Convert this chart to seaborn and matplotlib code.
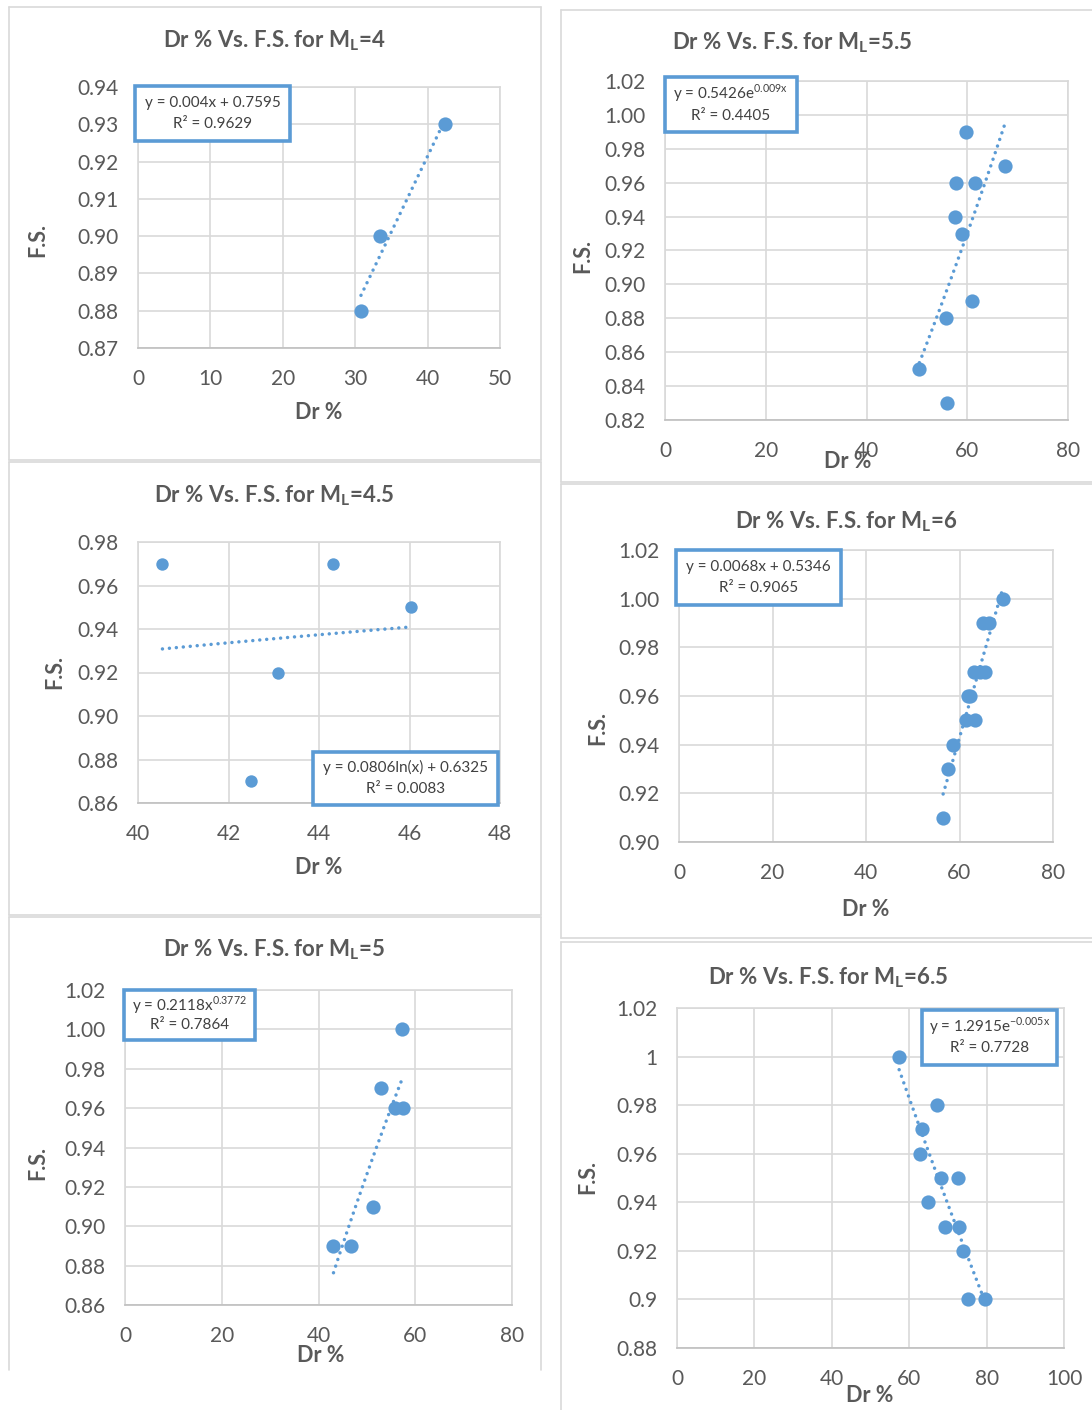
"""
Dr % vs F.S. scatter panels with Excel-style trendlines
"""

import numpy as np
import matplotlib
matplotlib.use("Agg")
import matplotlib.pyplot as plt
from matplotlib.patches import Rectangle
from matplotlib.lines import Line2D
import seaborn as sns

sns.set_style("whitegrid")
plt.rcParams['font.family'] = ['Lato', 'DejaVu Sans']

# ---- data ----
dr_ml4 = [30.8, 33.4, 42.4]
fs_ml4 = [0.88, 0.90, 0.93]

dr_ml45 = [40.54, 42.49, 43.10, 44.30, 46.04]
fs_ml45 = [0.97, 0.87, 0.92, 0.97, 0.95]

dr_ml5 = [43.1, 46.8, 51.3, 53.0, 55.9, 57.4, 57.3]
fs_ml5 = [0.89, 0.89, 0.91, 0.97, 0.96, 0.96, 1.00]

dr_ml55 = [50.5, 55.8, 56.0, 57.5, 57.8, 58.9, 59.8, 61.0, 61.5, 67.4]
fs_ml55 = [0.85, 0.88, 0.83, 0.94, 0.96, 0.93, 0.99, 0.89, 0.96, 0.97]

dr_ml6 = [56.5, 57.6, 58.6, 61.3, 63.3, 61.8, 62.2, 63.2, 64.4, 65.5, 65.0, 66.4, 69.3]
fs_ml6 = [0.91, 0.93, 0.94, 0.95, 0.95, 0.96, 0.96, 0.97, 0.97, 0.97, 0.99, 0.99, 1.00]

dr_ml65 = [57.4, 62.7, 63.4, 64.9, 67.1, 68.3, 69.3, 72.5, 72.9, 74.0, 75.2, 79.6]
fs_ml65 = [1.00, 0.96, 0.97, 0.94, 0.98, 0.95, 0.93, 0.95, 0.93, 0.92, 0.90, 0.90]

yt_ml4 = ['0.87', '0.88', '0.89', '0.90', '0.91', '0.92', '0.93', '0.94']
yt_ml45 = ['0.86', '0.88', '0.90', '0.92', '0.94', '0.96', '0.98']
yt_ml5 = ['0.86', '0.88', '0.90', '0.92', '0.94', '0.96', '0.98', '1.00', '1.02']
yt_ml55 = ['0.82', '0.84', '0.86', '0.88', '0.90', '0.92', '0.94', '0.96', '0.98', '1.00', '1.02']
yt_ml6 = ['0.90', '0.92', '0.94', '0.96', '0.98', '1.00', '1.02']
yt_ml65 = ['0.88', '0.9', '0.92', '0.94', '0.96', '0.98', '1', '1.02']

W, H = 1092, 1410
BLUE = '#5B9BD5'
GRID = '#d9d9d9'
TXT = '#595959'


def fx(x):
    return x / W


def fy(y):
    return 1 - y / H


def trend(x, y, kind):
    """Excel-style trendline over the data range"""
    x = np.asarray(x, float)
    y = np.asarray(y, float)
    xs = np.linspace(x.min(), x.max(), 100)
    if kind == 'linear':
        a, b = np.polyfit(x, y, 1)
        return xs, a * xs + b
    if kind == 'exp':
        a, b = np.polyfit(x, np.log(y), 1)
        return xs, np.exp(b) * np.exp(a * xs)
    if kind == 'log':
        a, b = np.polyfit(np.log(x), y, 1)
        return xs, a * np.log(xs) + b
    a, b = np.polyfit(np.log(x), np.log(y), 1)
    return xs, np.exp(b) * xs ** a


def frame(fig, l, t, r, b, bottom=True):
    segs = [((l, l), (t, b)), ((r, r), (t, b)), ((l, r), (t, t))]
    if bottom:
        segs.append(((l, r), (b, b)))
    for xs, ys in segs:
        fig.add_artist(Line2D([fx(v) for v in xs], [fy(v) for v in ys],
                              color=GRID, lw=1.2, transform=fig.transFigure))


def panel(fig, box, dr, fs, kind, xlim, xstep, yticklabels, title, title_xy,
          xlab_xy, ylab_xy, eq_box, eq_lines, msize=105):
    l, t, r, b = box
    ax = fig.add_axes([fx(l), fy(b), fx(r - l), (b - t) / H])
    ax.set_facecolor('white')

    xs, ys = trend(dr, fs, kind)
    ax.plot(xs, ys, color=BLUE, lw=2.5, linestyle=(0, (0.01, 2.0)),
            dash_capstyle='round', zorder=2)
    sns.scatterplot(x=dr, y=fs, ax=ax, color=BLUE, s=msize, linewidth=0,
                    zorder=3, clip_on=False)

    yvals = [float(v) for v in yticklabels]
    ax.set_xlim(*xlim)
    ax.set_ylim(yvals[0], yvals[-1])
    ax.set_xticks(np.arange(xlim[0], xlim[1] + 0.001, xstep))
    ax.set_yticks(yvals)
    ax.set_yticklabels(yticklabels)
    ax.grid(True, color=GRID, lw=1.2)
    ax.tick_params(length=0, labelsize=15, labelcolor=TXT)
    ax.tick_params(axis='y', pad=14)
    ax.tick_params(axis='x', pad=15)
    for s in ax.spines.values():
        s.set_color(GRID)
        s.set_linewidth(1.2)
    ax.spines['bottom'].set_color('#bfbfbf')
    ax.set_xlabel('')
    ax.set_ylabel('')

    fig.text(fx(title_xy[0]), fy(title_xy[1]), title, ha='center', va='center',
             fontsize=16, fontweight='bold', color=TXT)
    fig.text(fx(xlab_xy[0]), fy(xlab_xy[1]), 'Dr %', ha='center', va='center',
             fontsize=15.5, fontweight='bold', color=TXT)
    fig.text(fx(ylab_xy[0]), fy(ylab_xy[1]), 'F.S.', ha='center', va='center',
             fontsize=15.5, fontweight='bold', color=TXT, rotation=90)

    el, et, er, eb = eq_box
    fig.add_artist(Rectangle((fx(el), fy(eb)), fx(er - el), (eb - et) / H,
                             transform=fig.transFigure, facecolor='white',
                             edgecolor=BLUE, lw=2.6, zorder=5))
    cx = (el + er) / 2
    h = eb - et
    fig.text(fx(cx), fy(et + h * 0.30), eq_lines[0], ha='center', va='center',
             fontsize=11, color='#404040', zorder=6)
    fig.text(fx(cx), fy(et + h * 0.70), eq_lines[1], ha='center', va='center',
             fontsize=11, color='#404040', zorder=6)
    return ax


fig = plt.figure(figsize=(W / 100, H / 100), dpi=100)
fig.patch.set_facecolor('white')

# panel frames (chart areas)
frame(fig, 9, 7, 541, 460)
frame(fig, 9, 462, 541, 915)
frame(fig, 9, 917, 541, 1370, bottom=False)
frame(fig, 561, 10, 1100, 482)
frame(fig, 561, 484, 1100, 938)
frame(fig, 561, 942, 1100, 1420)

panel(fig, (138, 87, 500, 348), dr_ml4, fs_ml4, 'linear', (0, 50), 10, yt_ml4,
      r'Dr % Vs. F.S. for M$_\mathregular{L}$=4', (274, 41), (319, 413), (38, 240),
      (135, 86, 290, 141), ['y = 0.004x + 0.7595', 'R² = 0.9629'])

panel(fig, (665, 81, 1068, 420), dr_ml55, fs_ml55, 'exp', (0, 80), 20, yt_ml55,
      r'Dr % Vs. F.S. for M$_\mathregular{L}$=5.5', (792, 43), (848, 462), (583, 256),
      (665, 77, 797, 132), [r'y = 0.5426e$^\mathregular{0.009x}$', 'R² = 0.4405'])

panel(fig, (138, 542, 500, 803), dr_ml45, fs_ml45, 'log', (40, 48), 2, yt_ml45,
      r'Dr % Vs. F.S. for M$_\mathregular{L}$=4.5', (274, 496), (319, 868), (55, 672),
      (313, 752, 498, 805), ['y = 0.0806ln(x) + 0.6325', 'R² = 0.0083'], msize=80)

panel(fig, (679, 550, 1053, 842), dr_ml6, fs_ml6, 'linear', (0, 80), 20, yt_ml6,
      r'Dr % Vs. F.S. for M$_\mathregular{L}$=6', (846, 522), (866, 910), (598, 728),
      (676, 550, 841, 605), ['y = 0.0068x + 0.5346', 'R² = 0.9065'])

panel(fig, (125, 990, 512, 1305), dr_ml5, fs_ml5, 'power', (0, 80), 20, yt_ml5,
      r'Dr % Vs. F.S. for M$_\mathregular{L}$=5', (274, 950), (321, 1356), (38, 1163),
      (124, 990, 255, 1040), [r'y = 0.2118x$^\mathregular{0.3772}$', 'R² = 0.7864'])

panel(fig, (677, 1008, 1064, 1348), dr_ml65, fs_ml65, 'exp', (0, 100), 20, yt_ml65,
      r'Dr % Vs. F.S. for M$_\mathregular{L}$=6.5', (828, 978), (870, 1395), (588, 1177),
      (922, 1010, 1057, 1065), [r'y = 1.2915e$^\mathregular{-0.005x}$', 'R² = 0.7728'])

plt.savefig('out.png', dpi=100)
